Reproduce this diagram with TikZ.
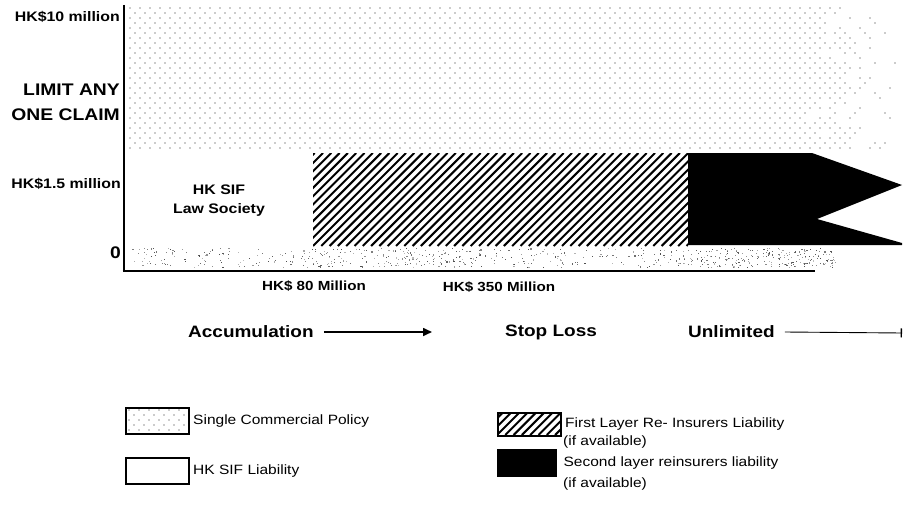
\documentclass[tikz,border=0pt]{standalone}
\usepackage{fontspec}
\newfontfamily\wide{Liberation Sans}[FakeStretch=1.15]
\usetikzlibrary{arrows.meta}

\tikzset{
  axislbl/.style={font=\wide\bfseries\fontsize{13.8}{15}\selectfont, inner sep=0, anchor=east},
  bigl/.style={font=\wide\bfseries\fontsize{16.8}{18}\selectfont, inner sep=0, anchor=east},
  inlbl/.style={font=\wide\bfseries\fontsize{13.8}{15}\selectfont, inner sep=0},
  ticklbl/.style={font=\wide\bfseries\fontsize{13.2}{15}\selectfont, inner sep=0},
  phase/.style={font=\wide\bfseries\fontsize{16.5}{18}\selectfont, inner sep=0},
  legtxt/.style={font=\wide\fontsize{13.5}{15}\selectfont, inner sep=0, anchor=west},
  axisline/.style={line width=2.6pt},
  legbox/.style={draw, line width=2pt},
  dot/.style={fill=black!85},
}

% diagonal hatching inside a rectangle
\newcommand\hatchfield[4]{%
  \begin{scope}
    \clip (#1,#2) rectangle (#3,#4);
    \foreach \i in {-15,...,60} {
      \draw[line width=2pt] ({#1+8.3*\i},#4) -- ({#1+8.3*\i+(#4-#2)},#2);
    }
  \end{scope}
}

% scattered grain between x0 and x1: count
\newcommand\grain[3]{%
  \foreach \k in {1,...,#3} {
    \pgfmathsetmacro\nx{#1+(#2-#1)*rnd}
    \pgfmathsetmacro\ny{248+19*rnd}
    \pgfmathsetmacro\ng{25+45*rnd}
    \fill[black!\ng] (\nx,\ny) rectangle ++(1.1,1.1);
  }
}

\begin{document}
\begin{tikzpicture}[x=1pt,y=-1pt]
  \useasboundingbox[fill=white] (0,0) rectangle (903,511);

  % ---- single commercial policy (dotted, fading to the right)
  \begin{scope}
    \clip (127,5) rectangle (903,150);
    \pgfmathsetseed{7}
    \foreach \r in {0,...,28} {
      \pgfmathsetmacro\yy{8+5*\r}
      \pgfmathtruncatemacro\off{mod(\r,2)*5}
      \foreach \c in {0,...,77} {
        \pgfmathsetmacro\xx{130+\off+10*\c}
        \pgfmathtruncatemacro\keep{((\xx<808) || (rnd > (\xx-808)/90)) ? 1 : 0}
        \ifnum\keep=1 \fill[dot] (\xx,\yy) circle (0.7); \fi
      }
    }
  \end{scope}

  % ---- grainy strip along the base line
  \begin{scope}
    \pgfmathsetseed{42}
    \grain{128}{310}{110}
    \grain{310}{565}{230}
    \grain{565}{690}{70}
    \grain{690}{835}{230}
  \end{scope}

  % ---- first layer re-insurers (hatched)
  \hatchfield{313}{153}{688}{246}
  \node[inner sep=0, minimum width=375pt, minimum height=93pt, anchor=north west] (first) at (313,153) {};

  % ---- second layer re-insurers (black flag)
  \fill (688,153) -- (812,153) -- (902,185) -- (817,219) -- (902,243) -- (902,245) -- (688,245) -- cycle;
  \coordinate (second) at (750,199);

  % ---- HK SIF layer text
  \node[inlbl] (sif1) at (219,190) {HK SIF};
  \node[inlbl] (sif2) at (219,210) {Law Society};

  % ---- axes
  \coordinate (origin) at (124,271);
  \coordinate (ytop) at (124,5);
  \coordinate (xend) at (815,271);
  \draw[axisline] (ytop) -- (origin);
  \draw[axisline] ([xshift=-1.3pt]origin) -- (xend);

  % ---- axis labels
  \node[axislbl] (y10) at (120,17) {HK\$10 million};
  \node[bigl] (lim1) at (120,90) {LIMIT ANY};
  \node[bigl] (lim2) at (120,115) {ONE CLAIM};
  \node[axislbl] (y15) at (121,184) {HK\$1.5 million};
  \node[bigl] (y0) at (121,253) {0};
  \node[ticklbl] (x80) at (314,286) {HK\$ 80 Million};
  \node[ticklbl] (x350) at (499,287) {HK\$ 350 Million};

  % ---- phases
  \node[phase, anchor=west] (acc) at (188,332) {Accumulation};
  \coordinate (accend) at (432,332);
  \draw[line width=1.6pt, -{Triangle[length=9pt,width=8pt]}] ([xshift=10pt]acc.east) -- (accend);
  \node[phase] (stop) at (551,332) {Stop Loss};
  \node[phase, anchor=west] (unl) at (688,332) {Unlimited};
  \coordinate (unlend) at (902,333);
  \draw[line width=0.9pt, -{Bar[width=9pt,line width=1.4pt]}] ([xshift=10pt]unl.east) -- (unlend);

  % ---- legend
  \begin{scope}
    \clip (125,407) rectangle (188,433);
    \foreach \r in {0,...,5} {
      \pgfmathsetmacro\yy{410+5*\r}
      \pgfmathtruncatemacro\off{mod(\r,2)*5}
      \foreach \c in {0,...,7} {
        \pgfmathsetmacro\xx{129+\off+10*\c}
        \fill[dot] (\xx,\yy) circle (0.7);
      }
    }
  \end{scope}
  \node[legbox, inner sep=0, minimum width=63pt, minimum height=26pt, anchor=north west] (lg1) at (125,407) {};
  \node[legtxt] (lt1) at ([xshift=3pt]lg1.east) {Single Commercial Policy};

  \node[legbox, fill=white, inner sep=0, minimum width=63pt, minimum height=26pt, anchor=north west] (lg2) at (125,457) {};
  \node[legtxt] (lt2) at ([xshift=3pt]lg2.east) {HK SIF Liability};

  \hatchfield{497}{412}{560}{435}
  \node[legbox, inner sep=0, minimum width=63pt, minimum height=23pt, anchor=north west] (lg3) at (497,412) {};
  \node[legtxt] (lt3) at ([xshift=3pt]lg3.east) {First Layer Re- Insurers Liability};
  \node[legtxt] (lt3b) at (563,442) {(if available)};

  \node[fill=black, inner sep=0, minimum width=60pt, minimum height=28pt, anchor=north west] (lg4) at (497,449) {};
  \node[legtxt] (lt4) at ([xshift=6pt]lg4.east) {Second layer reinsurers liability};
  \node[legtxt] (lt4b) at (563,484) {(if available)};
\end{tikzpicture}
\end{document}
